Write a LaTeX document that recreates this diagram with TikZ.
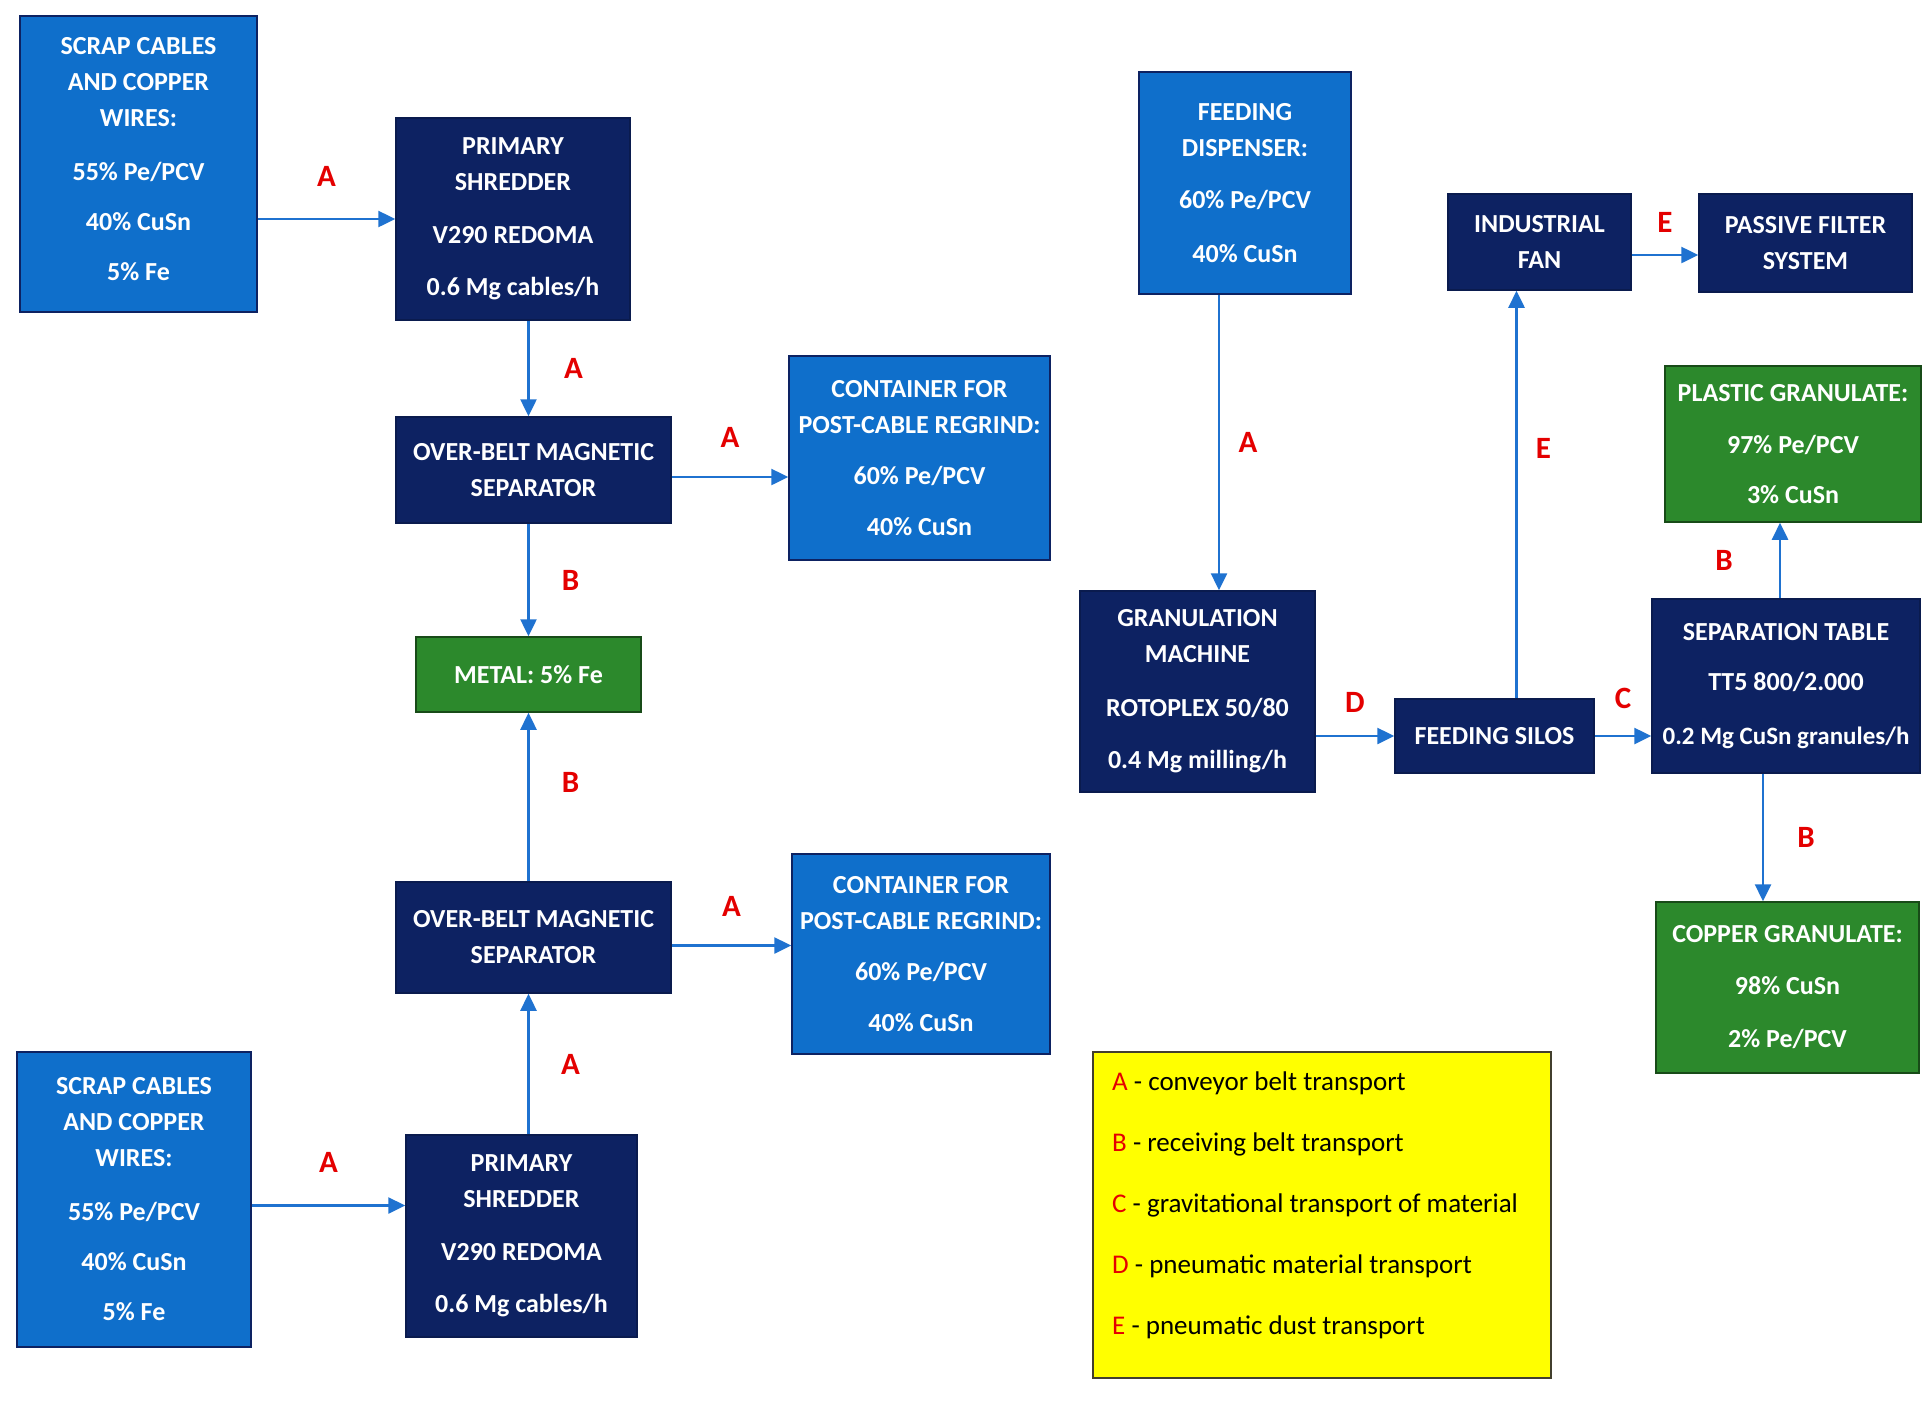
\documentclass[tikz,border=0pt]{standalone}
\usepackage{fontspec}
\setmainfont{Carlito}
\usetikzlibrary{arrows.meta}

\definecolor{navybox}{RGB}{13,34,98}
\definecolor{bluebox}{RGB}{15,111,203}
\definecolor{greenbox}{RGB}{44,137,44}
\definecolor{arrowblue}{RGB}{31,114,208}
\definecolor{labelred}{RGB}{228,0,0}
\definecolor{legendyellow}{RGB}{255,255,0}

\tikzset{
  wh/.style 2 args={minimum width=#1, minimum height=#2},
  box/.style={line width=1.5pt, text=white, align=center, inner sep=0pt,
    font=\fontsize{26}{36}\selectfont\bfseries},
  darkbox/.style={box, fill=navybox, draw=navybox!80!black},
  lightbox/.style={box, fill=bluebox, draw=navybox},
  greenbox/.style={box, fill=greenbox, draw=greenbox!55!black},
  legendbox/.style={fill=legendyellow, draw=black!70!olive, line width=1.5pt},
  flow/.style={draw=arrowblue, line width=2.5pt, -{Triangle[length=17pt,width=16pt]}},
  trlabel/.style={text=labelred, font=\fontsize{31}{31}\selectfont\bfseries}
}

\begin{document}
\begin{tikzpicture}[x=1pt, y=-1pt]
\useasboundingbox[fill=white] (0,0) rectangle (1927,1425);

% upper cable line
\node[lightbox, wh={237}{296}] (scrapA) at (138.5,164) {SCRAP CABLES\\AND COPPER\\WIRES:\\[18pt]55\% Pe/PCV\\[14pt]40\% CuSn\\[14pt]5\% Fe\\[-26pt]};
\node[darkbox, wh={234}{202}] (shredA) at (513,219) {PRIMARY\\SHREDDER\\[17pt]V290 REDOMA\\[16pt]0.6 Mg cables/h};
\node[darkbox, wh={275}{106}] (sepA) at (533.5,470) {OVER-BELT MAGNETIC\\SEPARATOR};
\node[lightbox, wh={261}{204}] (contA) at (919.5,458) {CONTAINER FOR\\POST-CABLE REGRIND:\\[15pt]60\% Pe/PCV\\[15pt]40\% CuSn};
\node[greenbox, wh={225}{75}] (metal) at (528.5,674.5) {METAL: 5\% Fe};

% lower cable line
\node[darkbox, wh={275}{111}] (sepB) at (533.5,937.5) {OVER-BELT MAGNETIC\\SEPARATOR};
\node[lightbox, wh={258}{200}] (contB) at (921,954) {CONTAINER FOR\\POST-CABLE REGRIND:\\[15pt]60\% Pe/PCV\\[15pt]40\% CuSn};
\node[lightbox, wh={234}{295}] (scrapB) at (134,1199.5) {SCRAP CABLES\\AND COPPER\\WIRES:\\[18pt]55\% Pe/PCV\\[14pt]40\% CuSn\\[14pt]5\% Fe};
\node[darkbox, wh={231}{202}] (shredB) at (521.5,1236) {PRIMARY\\SHREDDER\\[17pt]V290 REDOMA\\[16pt]0.6 Mg cables/h};

% granulation line
\node[lightbox, wh={212}{222}] (feed) at (1245,183) {FEEDING\\DISPENSER:\\[16pt]60\% Pe/PCV\\[18pt]40\% CuSn};
\node[darkbox, wh={183}{96}] (fan) at (1539.5,242) {INDUSTRIAL\\FAN};
\node[darkbox, wh={213}{98}] (filter) at (1805.5,243) {PASSIVE FILTER\\SYSTEM};
\node[greenbox, wh={256}{156}] (plastic) at (1793,444) {PLASTIC GRANULATE:\\[16pt]97\% Pe/PCV\\[14pt]3\% CuSn};
\node[darkbox, wh={235}{201}] (gran) at (1197.5,691.5) {GRANULATION\\MACHINE\\[18pt]ROTOPLEX 50/80\\[16pt]0.4 Mg milling/h};
\node[darkbox, wh={199}{74}] (silos) at (1494.5,736) {FEEDING SILOS};
\node[darkbox, wh={268}{174}] (septab) at (1786,686) {SEPARATION TABLE\\[14pt]TT5 800/2.000\\[18pt]{\fontsize{25}{36}\selectfont 0.2 Mg CuSn granules/h}};
\node[greenbox, wh={263}{171}] (copper) at (1787.5,987.5) {COPPER GRANULATE:\\[16pt]98\% CuSn\\[17pt]2\% Pe/PCV};

% legend
\node[legendbox, wh={458}{326}] (legend) at (1322,1215) {};
\node[anchor=north west, align=left, inner sep=0pt, font=\fontsize{27}{61}\selectfont] (legtext) at (1112,1072)
  {\textcolor{labelred}{A} - conveyor belt transport\\
   \textcolor{labelred}{B} - receiving belt transport\\
   \textcolor{labelred}{C} - gravitational transport of material\\
   \textcolor{labelred}{D} - pneumatic material transport\\
   \textcolor{labelred}{E} - pneumatic dust transport};

% connectors
\draw[flow] (scrapA.east |- shredA.west) -- node[trlabel, yshift=43] {A} (shredA.west);
\draw[flow] (shredA.south -| metal.north) -- node[trlabel, xshift=45] {A} (sepA.north -| metal.north);
\draw[flow] ([yshift=-7]sepA.east) -- node[trlabel, yshift=40] {A} ([yshift=-7]sepA.east -| contA.west);
\draw[flow] (sepA.south -| metal.north) -- node[trlabel, xshift=42] {B} (metal.north);
\draw[flow] (sepB.north -| metal.south) -- node[trlabel, xshift=42, yshift=15] {B} (metal.south);
\draw[flow] ([yshift=-8]sepB.east) -- node[trlabel, yshift=39] {A} ([yshift=-8]sepB.east -| contB.west);
\draw[flow] (shredB.north -| metal.south) -- node[trlabel, xshift=42] {A} (sepB.south -| metal.south);
\draw[flow] ([yshift=-6]scrapB.east) -- node[trlabel, yshift=43] {A} ([yshift=-6]scrapB.east -| shredB.west);
\draw[flow] ([xshift=-26]feed.south) -- node[trlabel, xshift=29] {A} ([xshift=-26]feed.south |- gran.north);
\draw[flow] ([xshift=22]silos.north) -- node[trlabel, xshift=27, yshift=46] {E} ([xshift=22]silos.north |- fan.south);
\draw[flow] ([yshift=-13]fan.east) -- node[trlabel, yshift=33] {E} ([yshift=-13]fan.east -| filter.west);
\draw[flow] (gran.east |- silos.west) -- node[trlabel, yshift=34] {D} (silos.west);
\draw[flow] (silos.east) -- node[trlabel, yshift=38] {C} (silos.east -| septab.west);
\draw[flow] ([xshift=-6]septab.north) -- node[trlabel, xshift=-56] {B} ([xshift=-6]septab.north |- plastic.south);
\draw[flow] ([xshift=-23]septab.south) -- node[trlabel, xshift=43] {B} ([xshift=-23]septab.south |- copper.north);
\end{tikzpicture}
\end{document}
